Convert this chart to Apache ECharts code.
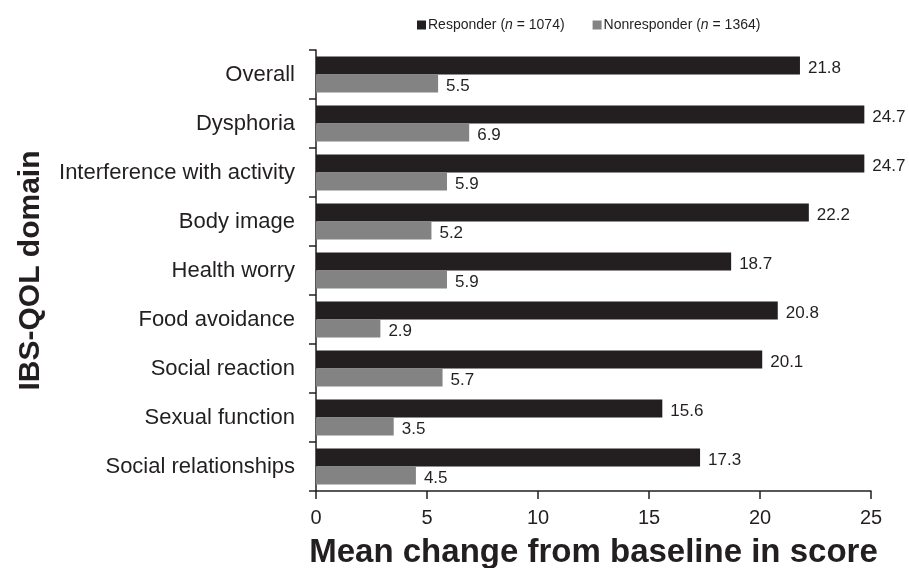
<!DOCTYPE html>
<html>
<head>
<meta charset="utf-8">
<script src="https://cdn.jsdelivr.net/npm/echarts@6/dist/echarts.min.js"></script>
<style>
  html, body { margin: 0; padding: 0; background: #fff; }
  #chart { width: 909px; height: 568px; }
</style>
</head>
<body>
<div id="chart"></div>
<script>
const domains = [
  'Overall',
  'Dysphoria',
  'Interference with activity',
  'Body image',
  'Health worry',
  'Food avoidance',
  'Social reaction',
  'Sexual function',
  'Social relationships'
]
const responder = [21.8, 24.7, 24.7, 22.2, 18.7, 20.8, 20.1, 15.6, 17.3]
const nonresponder = [5.5, 6.9, 5.9, 5.2, 5.9, 2.9, 5.7, 3.5, 4.5]
const xTicks = [0, 5, 10, 15, 20, 25]

const FONT = 'Arial, "Liberation Sans", Helvetica, sans-serif'
const DARK = '#231f20'
const GREY = '#838383'

const chart = echarts.init(document.getElementById('chart'))

const labelStyle = {
  show: true,
  position: 'right',
  distance: 8,
  offset: [0, 3],
  color: '#231f20',
  fontFamily: FONT,
  fontSize: 17,
  formatter: (p) => p.value.toFixed(1)
}

const legendRich = {
  t: { fontFamily: FONT, fontSize: 14, color: '#231f20' },
  i: { fontFamily: FONT, fontSize: 14, color: '#231f20', fontStyle: 'italic' }
}

chart.setOption({
  animation: false,
  backgroundColor: '#fff',
  textStyle: { fontFamily: FONT },
  legend: {
    top: 13,
    left: 412,
    itemWidth: 9,
    itemHeight: 9,
    itemGap: 28,
    icon: 'rect',
    data: ['Responder', 'Nonresponder'],
    formatter: (name) => name === 'Responder'
      ? '{t|Responder (}{i|n}{t| = 1074)}'
      : '{t|Nonresponder (}{i|n}{t| = 1364)}',
    textStyle: { padding: [0, 0, 0, -3], rich: legendRich }
  },
  grid: {
    left: 316,
    right: 38,
    top: 50,
    bottom: 77,
    containLabel: false,
    outerBoundsMode: 'none'
  },
  xAxis: {
    type: 'value',
    min: xTicks[0],
    max: xTicks[xTicks.length - 1],
    interval: 5,
    name: 'Mean change from baseline in score',
    nameLocation: 'middle',
    nameGap: 45,
    nameTextStyle: { fontFamily: FONT, fontSize: 33, fontWeight: 'bold', color: '#231f20' },
    axisLine: { show: true, lineStyle: { color: '#231f20', width: 1.5 } },
    axisTick: { show: true, length: 8, lineStyle: { color: '#231f20', width: 1.5 } },
    axisLabel: { fontFamily: FONT, fontSize: 20, color: '#231f20', margin: 17 },
    splitLine: { show: false }
  },
  yAxis: {
    type: 'category',
    inverse: true,
    data: domains,
    name: 'IBS-QOL domain',
    nameLocation: 'middle',
    nameGap: 270,
    nameRotate: 90,
    nameTextStyle: { fontFamily: FONT, fontSize: 30, fontWeight: 'bold', color: '#231f20' },
    axisLine: { show: true, lineStyle: { color: '#231f20', width: 1.5 } },
    axisTick: { show: true, length: 7, lineStyle: { color: '#231f20', width: 1.5 } },
    axisLabel: { fontFamily: FONT, fontSize: 22, color: '#231f20', margin: 21 }
  },
  series: [
    {
      name: 'Responder',
      type: 'bar',
      data: responder,
      barWidth: 18,
      barGap: '0%',
      itemStyle: { color: DARK },
      label: labelStyle
    },
    {
      name: 'Nonresponder',
      type: 'bar',
      data: nonresponder,
      barWidth: 18,
      barGap: '0%',
      itemStyle: { color: GREY },
      label: labelStyle
    }
  ]
})
</script>
</body>
</html>
